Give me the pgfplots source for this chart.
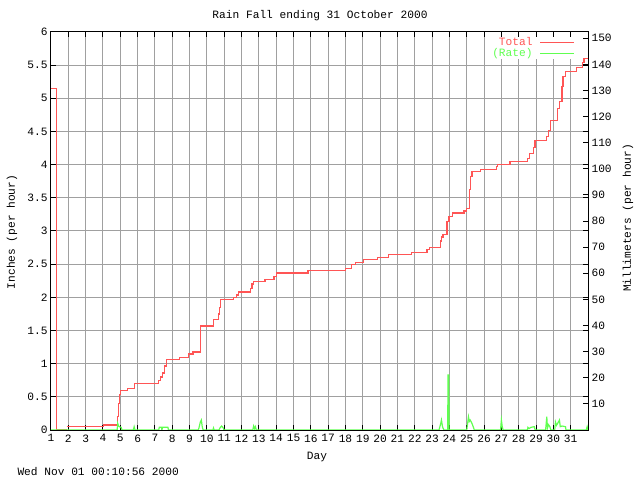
\documentclass[border=0pt]{standalone}
\usepackage{pgfplots}
\pgfplotsset{compat=1.18}
\usepackage{fontspec}
\setmainfont{Liberation Mono}
\definecolor{totred}{RGB}{255,85,85}
\definecolor{rategreen}{RGB}{96,255,80}
\definecolor{gridgray}{RGB}{160,160,160}
\newcommand{\gfont}{\fontsize{11.2bp}{12bp}\selectfont}
\begin{document}
\begin{tikzpicture}
\useasboundingbox (-51bp,-50bp) rectangle (589bp,430bp);
\begin{axis}[
  at={(0,0)}, anchor=south west,
  scale only axis, width=537bp, height=398bp,
  xmin=1, xmax=32, ymin=0, ymax=6,
  axis line style={black, line width=1bp},
  grid=major, major grid style={gridgray, line width=1bp},
  tick style={black, line width=1bp},
  major tick length=5bp,
  tick align=inside,
  xtick pos=both, ytick pos=both,
  xtick={1,2,...,31},
  xticklabels={1,2,3,4,5,6,7,8,9,10,11,12,13,14,15,16,17,18,19,20,21,22,23,24,25,26,27,28,29,30,31},
  ytick={0,0.5,1,1.5,2,2.5,3,3.5,4,4.5,5,5.5,6},
  yticklabels={0,0.5,1,1.5,2,2.5,3,3.5,4,4.5,5,5.5,6},
  tick label style={font=\gfont},
  xticklabel style={yshift=-1bp},
  legend style={at={(1,1)}, anchor=north east, xshift=-12bp, yshift=-5bp,
    draw=none, fill=white, font=\gfont, row sep=2bp, inner sep=1bp,
    /tikz/column sep=7bp,
    nodes={inner sep=0bp, text height=7bp, text depth=2bp}},
  legend plot pos=right,
  legend cell align=right,
  legend image code/.code={\draw[#1] (0bp,0bp) -- (34bp,0bp);},
]
\addplot[totred, line width=1.2bp, forget plot] coordinates {
(1,5.15) (1.33,5.15) (1.33,0) (1.9,0)
};
\addplot[totred, line width=1.2bp, const plot] coordinates {
(1.9,0.05) (4.02,0.075) (4.85,0.2) (4.9,0.4) (4.95,0.53) (5.0,0.59)
(5.4,0.63) (5.81,0.70) (7.2,0.75) (7.3,0.80) (7.45,0.86) (7.55,0.965) (7.68,1.066)
(8.42,1.095) (8.92,1.145) (9.2,1.175) (9.63,1.568) (10.37,1.66) (10.66,1.75) (10.72,1.85)
(10.77,1.97) (11.53,2.0) (11.72,2.035) (11.82,2.08) (12.52,2.13) (12.6,2.2) (12.7,2.24)
(13.35,2.27) (13.87,2.32) (14.02,2.367) (15.84,2.40) (18.0,2.44) (18.36,2.49) (18.6,2.52)
(19.04,2.565) (19.85,2.6) (20.47,2.64) (21.8,2.68) (22.7,2.72) (22.83,2.755)
(23.48,2.85) (23.52,2.91) (23.63,2.95) (23.86,3.14) (23.98,3.22) (24.17,3.27)
(24.84,3.30) (25.0,3.34) (25.15,3.62) (25.22,3.82) (25.3,3.895) (25.78,3.93)
(26.7,3.97) (26.78,4.005) (27.5,4.05) (28.5,4.09) (28.64,4.17) (28.84,4.26) (28.94,4.37)
(29.6,4.42) (29.73,4.52) (29.84,4.67) (30.23,4.85) (30.37,4.95) (30.5,5.18) (30.56,5.33)
(30.72,5.41) (31.33,5.47) (31.66,5.54) (31.77,5.60) (32,5.60)
};
\addlegendentry{\textcolor{totred}{Total}}
\addplot[rategreen, line width=1.2bp] coordinates {
(1,0) (4.82,0) (4.85,0.10) (4.9,0.06) (4.95,0.05) (5.05,0.04) (5.1,0) (5.75,0) (5.8,0.05)
(5.85,0) (7.22,0) (7.25,0.04) (7.38,0.04) (7.4,0) (7.45,0.04) (7.75,0.04) (7.78,0)
(9.5,0) (9.55,0.04) (9.62,0.12) (9.68,0.15) (9.73,0.05) (9.78,0) (10.35,0) (10.38,0.03)
(10.42,0) (10.7,0) (10.75,0.03) (10.85,0.06) (10.95,0.03) (10.98,0) (12.65,0) (12.7,0.06)
(12.75,0.02) (12.8,0.05) (12.85,0) (23.4,0) (23.5,0.10) (23.54,0.15) (23.6,0.05) (23.68,0)
(23.9,0) (23.92,0.83) (23.96,0.83) (23.98,0) (25.0,0) (25.05,0.1) (25.1,0.2) (25.15,0.13)
(25.2,0.15) (25.3,0.1) (25.4,0.03) (25.44,0) (26.95,0) (27.0,0.15) (27.05,0.05) (27.1,0)
(28.5,0) (28.53,0.04) (28.6,0.02) (28.7,0.04) (28.9,0.05) (28.95,0) (29.55,0) (29.57,0.05)
(29.62,0.20) (29.66,0.03) (29.72,0.08) (29.8,0.05) (29.85,0) (30.08,0) (30.12,0.12)
(30.18,0.07) (30.25,0.10) (30.35,0.15) (30.4,0.05) (30.5,0.06) (30.7,0.05) (30.73,0)
(31.9,0) (31.95,0.05) (32,0)
};
\addlegendentry{\textcolor{rategreen}{(Rate)}}
\end{axis}
\begin{axis}[
  at={(0,0)}, anchor=south west,
  scale only axis, width=537bp, height=398bp,
  xmin=1, xmax=32, ymin=0, ymax=152.4,
  axis x line=none, axis y line*=right,
  axis line style={black, line width=1bp},
  tick style={black, line width=1bp},
  major tick length=5bp, tick align=inside,
  ytick={10,20,30,40,50,60,70,80,90,100,110,120,130,140,150},
  yticklabels={10,20,30,40,50,60,70,80,90,100,110,120,130,140,150},
  tick label style={font=\gfont},
]
\end{axis}
\node[font=\gfont] at (269bp,414bp) {Rain Fall ending 31 October 2000};
\node[font=\gfont] at (266bp,-27bp) {Day};
\node[font=\gfont, anchor=west] at (-37bp,-42bp) {Wed Nov 01 00:10:56 2000};
\node[font=\gfont, rotate=90] at (-39bp,198bp) {Inches (per hour)};
\node[font=\gfont, rotate=90] at (577bp,212bp) {Millimeters (per hour)};
\end{tikzpicture}
\end{document}
